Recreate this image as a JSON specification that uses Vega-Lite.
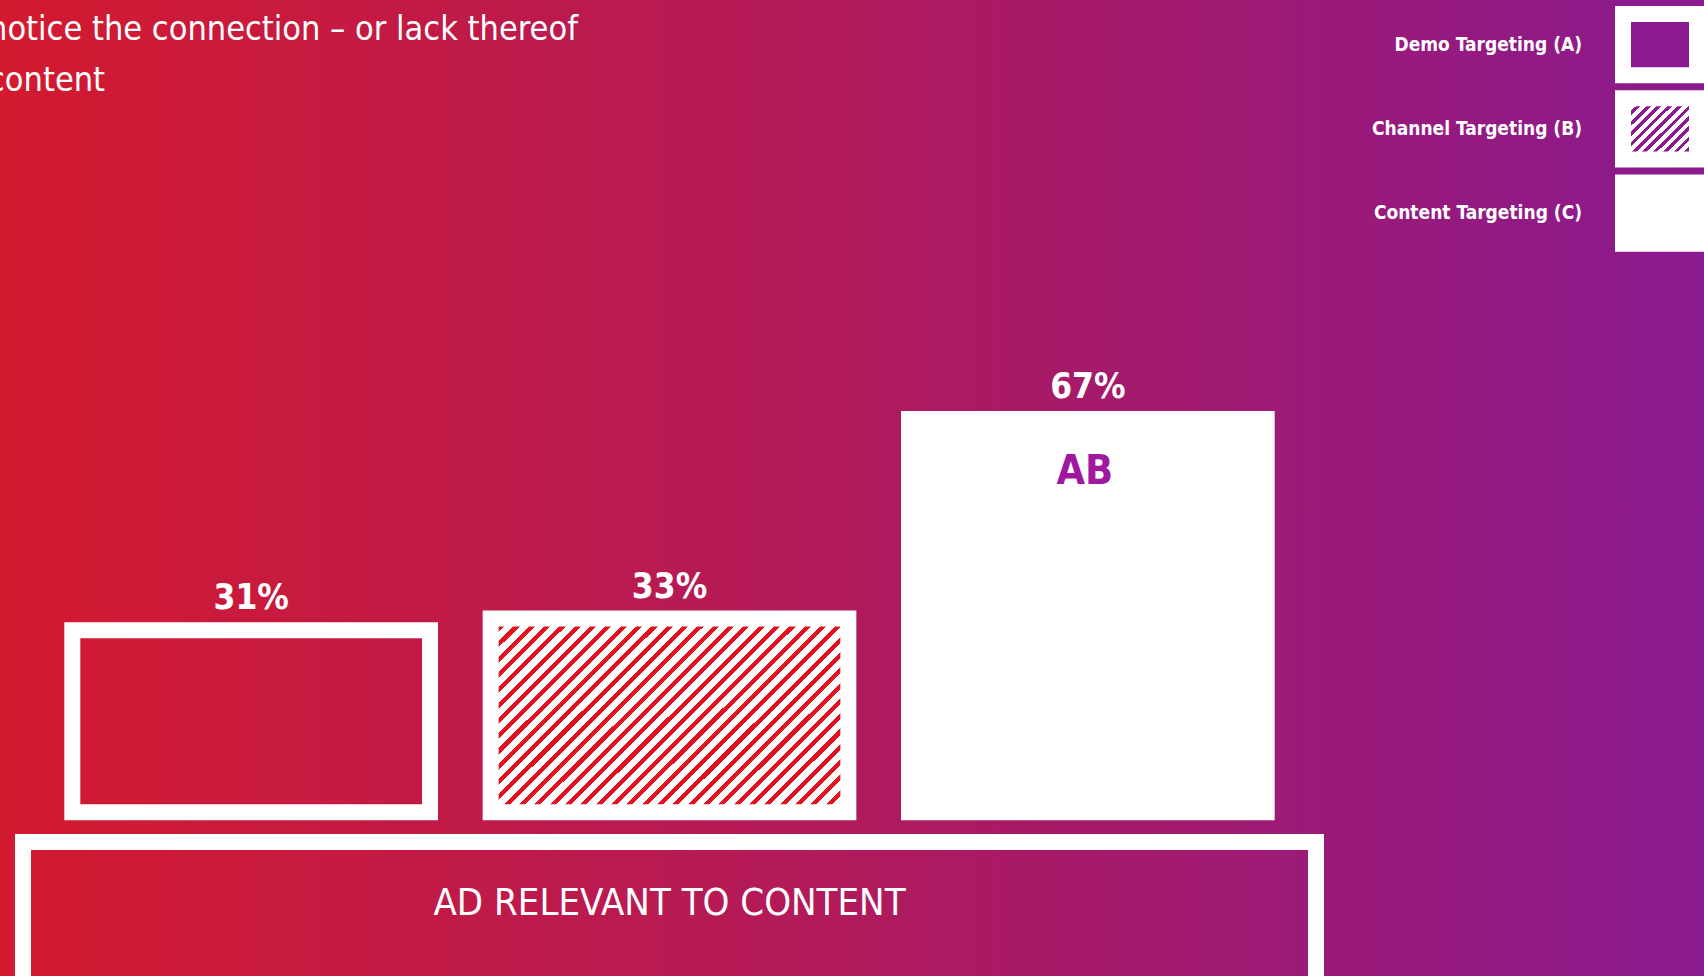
{
  "$schema": "https://vega.github.io/schema/vega-lite/v6.json",
  "width": 1704,
  "height": 976,
  "autosize": "none",
  "padding": 0,
  "background": "#ad1a60",
  "config": {
    "font": "Liberation Sans Narrow, DejaVu Sans Condensed, Liberation Sans, sans-serif",
    "view": {
      "stroke": null,
      "fill": {"gradient": "linear", "x1": 0, "y1": 0, "x2": 1, "y2": 0,
        "stops": [{"offset": 0, "color": "#d31a2f"}, {"offset": 0.5, "color": "#b01a5c"}, {"offset": 1, "color": "#8a1a8f"}]}
    }
  },
  "title": {
    "text": ["notice the connection – or lack thereof", "content"],
    "anchor": "start",
    "frame": "group",
    "orient": "top",
    "offset": -46,
    "dx": -12,
    "dy": 79,
    "baseline": "alphabetic",
    "fontSize": 34,
    "lineHeight": 51,
    "fontWeight": "normal",
    "color": "white"
  },
  "datasets": {
    "bars": [
      {"targeting": "Demo Targeting (A)", "value": 0.31, "sig": ""},
      {"targeting": "Channel Targeting (B)", "value": 0.33, "sig": ""},
      {"targeting": "Content Targeting (C)", "value": 0.67, "sig": "AB"}
    ],
    "groups": [
      {"group": "AD RELEVANT TO CONTENT"}
    ]
  },
  "resolve": {"scale": {"x": "independent", "y": "independent"}},
  "layer": [
    {
      "data": {"name": "bars"},
      "mark": {"type": "bar", "stroke": "white", "strokeWidth": 16, "strokeJoin": "miter"},
      "encoding": {
        "x": {"field": "targeting", "type": "nominal", "axis": null,
          "scale": {"type": "band", "domain": ["Demo Targeting (A)", "Channel Targeting (B)", "Content Targeting (C)"], "range": [15, 1324], "paddingInner": 0.145, "paddingOuter": 0.137}},
        "y": {"field": "value", "type": "quantitative", "axis": null,
          "scale": {"domain": [-0.2789, 1.3838], "range": [976, 0], "nice": false, "zero": false}},
        "y2": {"datum": 0},
        "fill": {
          "condition": [
            {"test": "datum.targeting === 'Channel Targeting (B)'", "value": {"gradient": "linear", "x1": 0, "y1": 0, "x2": 1.192, "y2": 0.647, "stops": [
              {"offset": 0, "color": "#e3101f"}, {"offset": 0.0111, "color": "#e3101f"}, {"offset": 0.0111, "color": "#ffffff"}, {"offset": 0.0278, "color": "#ffffff"},
              {"offset": 0.0278, "color": "#e3101f"}, {"offset": 0.0389, "color": "#e3101f"}, {"offset": 0.0389, "color": "#ffffff"}, {"offset": 0.0556, "color": "#ffffff"},
              {"offset": 0.0556, "color": "#e3101f"}, {"offset": 0.0667, "color": "#e3101f"}, {"offset": 0.0667, "color": "#ffffff"}, {"offset": 0.0833, "color": "#ffffff"},
              {"offset": 0.0833, "color": "#e3101f"}, {"offset": 0.0944, "color": "#e3101f"}, {"offset": 0.0944, "color": "#ffffff"}, {"offset": 0.1111, "color": "#ffffff"},
              {"offset": 0.1111, "color": "#e3101f"}, {"offset": 0.1222, "color": "#e3101f"}, {"offset": 0.1222, "color": "#ffffff"}, {"offset": 0.1389, "color": "#ffffff"},
              {"offset": 0.1389, "color": "#e3101f"}, {"offset": 0.15, "color": "#e3101f"}, {"offset": 0.15, "color": "#ffffff"}, {"offset": 0.1667, "color": "#ffffff"},
              {"offset": 0.1667, "color": "#e3101f"}, {"offset": 0.1778, "color": "#e3101f"}, {"offset": 0.1778, "color": "#ffffff"}, {"offset": 0.1944, "color": "#ffffff"},
              {"offset": 0.1944, "color": "#e3101f"}, {"offset": 0.2056, "color": "#e3101f"}, {"offset": 0.2056, "color": "#ffffff"}, {"offset": 0.2222, "color": "#ffffff"},
              {"offset": 0.2222, "color": "#e3101f"}, {"offset": 0.2333, "color": "#e3101f"}, {"offset": 0.2333, "color": "#ffffff"}, {"offset": 0.25, "color": "#ffffff"},
              {"offset": 0.25, "color": "#e3101f"}, {"offset": 0.2611, "color": "#e3101f"}, {"offset": 0.2611, "color": "#ffffff"}, {"offset": 0.2778, "color": "#ffffff"},
              {"offset": 0.2778, "color": "#e3101f"}, {"offset": 0.2889, "color": "#e3101f"}, {"offset": 0.2889, "color": "#ffffff"}, {"offset": 0.3056, "color": "#ffffff"},
              {"offset": 0.3056, "color": "#e3101f"}, {"offset": 0.3167, "color": "#e3101f"}, {"offset": 0.3167, "color": "#ffffff"}, {"offset": 0.3333, "color": "#ffffff"},
              {"offset": 0.3333, "color": "#e3101f"}, {"offset": 0.3444, "color": "#e3101f"}, {"offset": 0.3444, "color": "#ffffff"}, {"offset": 0.3611, "color": "#ffffff"},
              {"offset": 0.3611, "color": "#e3101f"}, {"offset": 0.3722, "color": "#e3101f"}, {"offset": 0.3722, "color": "#ffffff"}, {"offset": 0.3889, "color": "#ffffff"},
              {"offset": 0.3889, "color": "#e3101f"}, {"offset": 0.4, "color": "#e3101f"}, {"offset": 0.4, "color": "#ffffff"}, {"offset": 0.4167, "color": "#ffffff"},
              {"offset": 0.4167, "color": "#e3101f"}, {"offset": 0.4278, "color": "#e3101f"}, {"offset": 0.4278, "color": "#ffffff"}, {"offset": 0.4444, "color": "#ffffff"},
              {"offset": 0.4444, "color": "#e3101f"}, {"offset": 0.4556, "color": "#e3101f"}, {"offset": 0.4556, "color": "#ffffff"}, {"offset": 0.4722, "color": "#ffffff"},
              {"offset": 0.4722, "color": "#e3101f"}, {"offset": 0.4833, "color": "#e3101f"}, {"offset": 0.4833, "color": "#ffffff"}, {"offset": 0.5, "color": "#ffffff"},
              {"offset": 0.5, "color": "#e3101f"}, {"offset": 0.5111, "color": "#e3101f"}, {"offset": 0.5111, "color": "#ffffff"}, {"offset": 0.5278, "color": "#ffffff"},
              {"offset": 0.5278, "color": "#e3101f"}, {"offset": 0.5389, "color": "#e3101f"}, {"offset": 0.5389, "color": "#ffffff"}, {"offset": 0.5556, "color": "#ffffff"},
              {"offset": 0.5556, "color": "#e3101f"}, {"offset": 0.5667, "color": "#e3101f"}, {"offset": 0.5667, "color": "#ffffff"}, {"offset": 0.5833, "color": "#ffffff"},
              {"offset": 0.5833, "color": "#e3101f"}, {"offset": 0.5944, "color": "#e3101f"}, {"offset": 0.5944, "color": "#ffffff"}, {"offset": 0.6111, "color": "#ffffff"},
              {"offset": 0.6111, "color": "#e3101f"}, {"offset": 0.6222, "color": "#e3101f"}, {"offset": 0.6222, "color": "#ffffff"}, {"offset": 0.6389, "color": "#ffffff"},
              {"offset": 0.6389, "color": "#e3101f"}, {"offset": 0.65, "color": "#e3101f"}, {"offset": 0.65, "color": "#ffffff"}, {"offset": 0.6667, "color": "#ffffff"},
              {"offset": 0.6667, "color": "#e3101f"}, {"offset": 0.6778, "color": "#e3101f"}, {"offset": 0.6778, "color": "#ffffff"}, {"offset": 0.6944, "color": "#ffffff"},
              {"offset": 0.6944, "color": "#e3101f"}, {"offset": 0.7056, "color": "#e3101f"}, {"offset": 0.7056, "color": "#ffffff"}, {"offset": 0.7222, "color": "#ffffff"},
              {"offset": 0.7222, "color": "#e3101f"}, {"offset": 0.7333, "color": "#e3101f"}, {"offset": 0.7333, "color": "#ffffff"}, {"offset": 0.75, "color": "#ffffff"},
              {"offset": 0.75, "color": "#e3101f"}, {"offset": 0.7611, "color": "#e3101f"}, {"offset": 0.7611, "color": "#ffffff"}, {"offset": 0.7778, "color": "#ffffff"},
              {"offset": 0.7778, "color": "#e3101f"}, {"offset": 0.7889, "color": "#e3101f"}, {"offset": 0.7889, "color": "#ffffff"}, {"offset": 0.8056, "color": "#ffffff"},
              {"offset": 0.8056, "color": "#e3101f"}, {"offset": 0.8167, "color": "#e3101f"}, {"offset": 0.8167, "color": "#ffffff"}, {"offset": 0.8333, "color": "#ffffff"},
              {"offset": 0.8333, "color": "#e3101f"}, {"offset": 0.8444, "color": "#e3101f"}, {"offset": 0.8444, "color": "#ffffff"}, {"offset": 0.8611, "color": "#ffffff"},
              {"offset": 0.8611, "color": "#e3101f"}, {"offset": 0.8722, "color": "#e3101f"}, {"offset": 0.8722, "color": "#ffffff"}, {"offset": 0.8889, "color": "#ffffff"},
              {"offset": 0.8889, "color": "#e3101f"}, {"offset": 0.9, "color": "#e3101f"}, {"offset": 0.9, "color": "#ffffff"}, {"offset": 0.9167, "color": "#ffffff"},
              {"offset": 0.9167, "color": "#e3101f"}, {"offset": 0.9278, "color": "#e3101f"}, {"offset": 0.9278, "color": "#ffffff"}, {"offset": 0.9444, "color": "#ffffff"},
              {"offset": 0.9444, "color": "#e3101f"}, {"offset": 0.9556, "color": "#e3101f"}, {"offset": 0.9556, "color": "#ffffff"}, {"offset": 0.9722, "color": "#ffffff"},
              {"offset": 0.9722, "color": "#e3101f"}, {"offset": 0.9833, "color": "#e3101f"}, {"offset": 0.9833, "color": "#ffffff"}, {"offset": 1, "color": "#ffffff"}
            ]}},
            {"test": "datum.targeting === 'Content Targeting (C)'", "value": "#ffffff"}
          ],
          "value": "transparent"
        }
      }
    },
    {
      "data": {"name": "bars"},
      "mark": {"type": "text", "baseline": "alphabetic", "dy": -21, "fontSize": 35, "fontWeight": "bold", "fill": "white"},
      "encoding": {
        "x": {"field": "targeting", "type": "nominal", "axis": null,
          "scale": {"type": "band", "domain": ["Demo Targeting (A)", "Channel Targeting (B)", "Content Targeting (C)"], "range": [15, 1324], "paddingInner": 0.145, "paddingOuter": 0.137}},
        "y": {"field": "value", "type": "quantitative", "axis": null,
          "scale": {"domain": [-0.2789, 1.3838], "range": [976, 0], "nice": false, "zero": false}},
        "text": {"field": "value", "type": "quantitative", "format": ".0%"}
      }
    },
    {
      "data": {"name": "bars"},
      "mark": {"type": "text", "baseline": "alphabetic", "dy": 65, "dx": -3, "fontSize": 41, "fontWeight": "bold", "fill": "#a0189f"},
      "encoding": {
        "x": {"field": "targeting", "type": "nominal", "axis": null,
          "scale": {"type": "band", "domain": ["Demo Targeting (A)", "Channel Targeting (B)", "Content Targeting (C)"], "range": [15, 1324], "paddingInner": 0.145, "paddingOuter": 0.137}},
        "y": {"field": "value", "type": "quantitative", "axis": null,
          "scale": {"domain": [-0.2789, 1.3838], "range": [976, 0], "nice": false, "zero": false}},
        "text": {"field": "sig", "type": "nominal"}
      }
    },
    {
      "data": {"name": "groups"},
      "mark": {"type": "rect", "fill": "transparent", "stroke": "white", "strokeWidth": 16, "strokeJoin": "miter"},
      "encoding": {
        "x": {"field": "group", "type": "nominal", "axis": null,
          "scale": {"type": "band", "domain": ["AD RELEVANT TO CONTENT"], "range": [23, 1316], "paddingInner": 0, "paddingOuter": 0}},
        "y": {"datum": -0.0506, "type": "quantitative", "axis": null,
          "scale": {"domain": [-0.2789, 1.3838], "range": [976, 0], "nice": false, "zero": false}},
        "y2": {"datum": -0.45}
      }
    },
    {
      "data": {"name": "groups"},
      "mark": {"type": "text", "baseline": "middle", "fontSize": 38, "fill": "white"},
      "encoding": {
        "x": {"field": "group", "type": "nominal", "axis": null,
          "scale": {"type": "band", "domain": ["AD RELEVANT TO CONTENT"], "range": [23, 1316], "paddingInner": 0, "paddingOuter": 0}},
        "y": {"datum": -0.157, "type": "quantitative", "axis": null,
          "scale": {"domain": [-0.2789, 1.3838], "range": [976, 0], "nice": false, "zero": false}},
        "text": {"field": "group", "type": "nominal"}
      }
    },
    {
      "data": {"name": "bars"},
      "mark": {"type": "rect", "stroke": "white", "strokeWidth": 16, "strokeJoin": "miter"},
      "encoding": {
        "x": {"datum": 0, "type": "quantitative", "axis": null,
          "scale": {"domain": [0, 1], "range": [1623, 1697], "nice": false, "zero": false}},
        "x2": {"datum": 1},
        "y": {"field": "targeting", "type": "nominal", "axis": null,
          "scale": {"type": "band", "domain": ["Demo Targeting (A)", "Channel Targeting (B)", "Content Targeting (C)"], "range": [14, 243.7], "paddingInner": 0.272, "paddingOuter": 0}},
        "fill": {
          "condition": [
            {"test": "datum.targeting === 'Demo Targeting (A)'", "value": "#8c1a91"},
            {"test": "datum.targeting === 'Channel Targeting (B)'", "value": {"gradient": "linear", "x1": 0, "y1": 0, "x2": 1.08, "y2": 0.903, "stops": [
              {"offset": 0, "color": "#8c1a91"}, {"offset": 0.0346, "color": "#8c1a91"}, {"offset": 0.0346, "color": "#ffffff"}, {"offset": 0.0769, "color": "#ffffff"},
              {"offset": 0.0769, "color": "#8c1a91"}, {"offset": 0.1115, "color": "#8c1a91"}, {"offset": 0.1115, "color": "#ffffff"}, {"offset": 0.1538, "color": "#ffffff"},
              {"offset": 0.1538, "color": "#8c1a91"}, {"offset": 0.1884, "color": "#8c1a91"}, {"offset": 0.1884, "color": "#ffffff"}, {"offset": 0.2308, "color": "#ffffff"},
              {"offset": 0.2308, "color": "#8c1a91"}, {"offset": 0.2654, "color": "#8c1a91"}, {"offset": 0.2654, "color": "#ffffff"}, {"offset": 0.3077, "color": "#ffffff"},
              {"offset": 0.3077, "color": "#8c1a91"}, {"offset": 0.3423, "color": "#8c1a91"}, {"offset": 0.3423, "color": "#ffffff"}, {"offset": 0.3846, "color": "#ffffff"},
              {"offset": 0.3846, "color": "#8c1a91"}, {"offset": 0.4192, "color": "#8c1a91"}, {"offset": 0.4192, "color": "#ffffff"}, {"offset": 0.4615, "color": "#ffffff"},
              {"offset": 0.4615, "color": "#8c1a91"}, {"offset": 0.4961, "color": "#8c1a91"}, {"offset": 0.4961, "color": "#ffffff"}, {"offset": 0.5385, "color": "#ffffff"},
              {"offset": 0.5385, "color": "#8c1a91"}, {"offset": 0.5731, "color": "#8c1a91"}, {"offset": 0.5731, "color": "#ffffff"}, {"offset": 0.6154, "color": "#ffffff"},
              {"offset": 0.6154, "color": "#8c1a91"}, {"offset": 0.65, "color": "#8c1a91"}, {"offset": 0.65, "color": "#ffffff"}, {"offset": 0.6923, "color": "#ffffff"},
              {"offset": 0.6923, "color": "#8c1a91"}, {"offset": 0.7269, "color": "#8c1a91"}, {"offset": 0.7269, "color": "#ffffff"}, {"offset": 0.7692, "color": "#ffffff"},
              {"offset": 0.7692, "color": "#8c1a91"}, {"offset": 0.8038, "color": "#8c1a91"}, {"offset": 0.8038, "color": "#ffffff"}, {"offset": 0.8462, "color": "#ffffff"},
              {"offset": 0.8462, "color": "#8c1a91"}, {"offset": 0.8808, "color": "#8c1a91"}, {"offset": 0.8808, "color": "#ffffff"}, {"offset": 0.9231, "color": "#ffffff"},
              {"offset": 0.9231, "color": "#8c1a91"}, {"offset": 0.9577, "color": "#8c1a91"}, {"offset": 0.9577, "color": "#ffffff"}, {"offset": 1, "color": "#ffffff"}
            ]}}
          ],
          "value": "#ffffff"
        }
      }
    },
    {
      "data": {"name": "bars"},
      "mark": {"type": "text", "align": "right", "baseline": "middle", "dx": -41, "dy": 0, "fontSize": 19, "fontWeight": "bold", "fill": "white"},
      "encoding": {
        "x": {"datum": 0, "type": "quantitative", "axis": null,
          "scale": {"domain": [0, 1], "range": [1623, 1697], "nice": false, "zero": false}},
        "y": {"field": "targeting", "type": "nominal", "axis": null,
          "scale": {"type": "band", "domain": ["Demo Targeting (A)", "Channel Targeting (B)", "Content Targeting (C)"], "range": [14, 243.7], "paddingInner": 0.272, "paddingOuter": 0}},
        "text": {"field": "targeting", "type": "nominal"}
      }
    }
  ]
}
